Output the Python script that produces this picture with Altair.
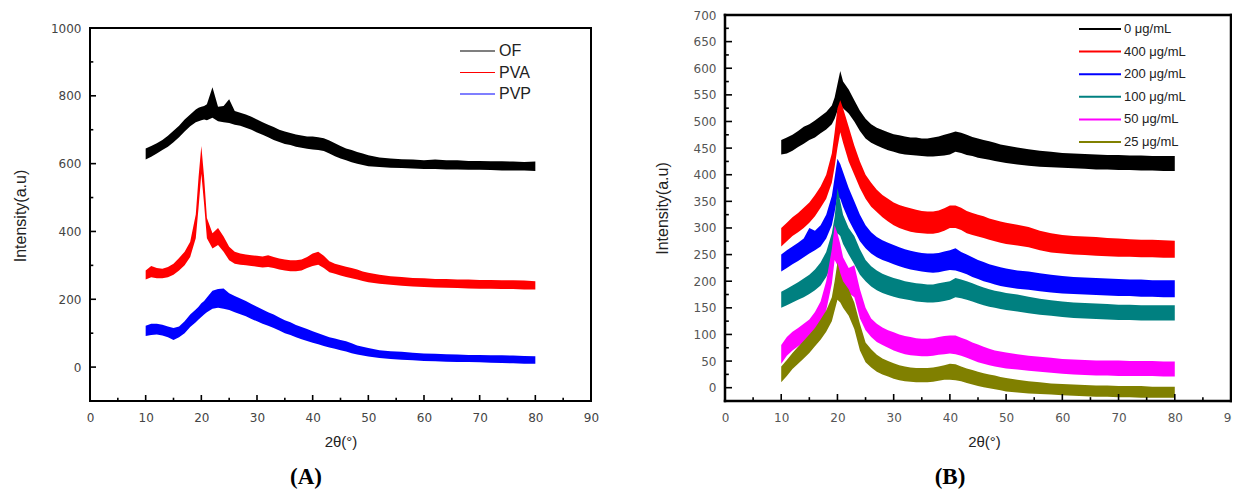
import altair as alt
import pandas as pd

# ---------------- data ----------------
two_theta = [10, 11, 12, 13, 14, 15, 16, 17, 18, 19,
             19.5, 20, 20.5,
             21, 22, 23, 24, 25, 26, 27, 28, 29, 30,
             31, 32, 33, 34, 35, 36, 37, 38, 39, 40,
             41, 42, 43, 44, 45, 46, 47, 48, 49, 50,
             52, 54, 56, 58, 60, 62, 64, 66, 68, 70, 72, 74, 76, 78, 80]

# Panel A: lower / upper envelope of each noisy trace
a_names = ["OF", "PVA", "PVP"]
a_colors = ["#000000", "#ff0000", "#0000ff"]

of_lo = [612, 620, 630, 640, 650, 663, 678, 695, 710, 722,
         725, 728, 730,
         728, 735, 725, 722, 720, 715, 712, 706, 700, 692,
         685, 678, 670, 664, 658, 655, 650, 647, 644, 642,
         640, 637, 630, 622, 615, 610, 604, 600, 596, 592,
         590, 588, 587, 586, 584, 584, 583, 583, 582, 582, 581, 580, 580, 580, 578]
of_hi = [645, 652, 660, 670, 682, 697, 712, 730, 745, 760,
         765, 768, 770,
         775, 825, 768, 770, 790, 755, 750, 745, 738, 730,
         722, 715, 708, 700, 695, 690, 686, 683, 680, 680,
         678, 675, 668, 660, 652, 645, 640, 634, 630, 625,
         618, 615, 613, 612, 610, 612, 610, 610, 608, 608, 607, 607, 606, 605, 606]

pva_lo = [258, 265, 262, 262, 265, 272, 285, 300, 325, 380,
          470, 570, 480,
          380, 350, 360, 340, 315, 305, 302, 300, 298, 296,
          294, 295, 292, 288, 285, 283, 283, 285, 292, 298,
          302, 292, 280, 275, 270, 266, 262, 258, 254, 250,
          246, 243, 240, 238, 236, 235, 234, 233, 232, 231, 231, 230, 230, 229, 229]
pva_hi = [285, 298, 292, 290, 295, 305, 322, 340, 370, 450,
          560, 652, 560,
          440, 395, 410, 385, 355, 340, 335, 332, 330, 328,
          326, 330, 325, 320, 317, 315, 315, 317, 325, 335,
          340, 328, 312, 305, 300, 296, 292, 288, 282, 278,
          272, 268, 266, 263, 262, 260, 260, 258, 258, 257, 257, 256, 256, 255, 253]

pvp_lo = [92, 95, 96, 93, 88, 80, 88, 100, 118, 132,
          140, 148, 155,
          162, 172, 175, 172, 168, 162, 156, 150, 142, 135,
          128, 122, 115, 108, 100, 95, 88, 82, 77, 72,
          67, 62, 58, 54, 50, 46, 41, 37, 34, 31,
          27, 24, 22, 20, 18, 17, 16, 15, 15, 14, 13, 12, 11, 10, 10]
pvp_hi = [122, 128, 128, 125, 120, 115, 120, 135, 155, 170,
          178, 188, 195,
          205, 225, 230, 232, 218, 210, 202, 195, 186, 178,
          170, 162, 155, 146, 138, 132, 124, 118, 112, 106,
          100, 94, 88, 84, 80, 76, 70, 64, 60, 56,
          50, 47, 45, 42, 40, 39, 38, 37, 36, 36, 35, 35, 34, 33, 32]

# Panel B
b_names = ["0 μg/mL", "400 μg/mL", "200 μg/mL", "100 μg/mL", "50 μg/mL", "25 μg/mL"]
b_colors = ["#000000", "#ff0000", "#0000ff", "#008080", "#ff00ff", "#808000"]

c0_lo = [438, 440, 445, 452, 458, 465, 470, 478, 485, 495,
         505, 520, 530,
         525, 515, 500, 482, 468, 460, 455, 450, 446, 443,
         440, 438, 437, 436, 435, 434, 434, 435, 436, 438,
         443, 441, 437, 435, 432, 430, 428, 426, 424, 422,
         419, 417, 415, 414, 413, 412, 411, 410, 410, 409, 409, 408, 408, 407, 407]
c0_hi = [465, 470, 475, 482, 490, 495, 502, 510, 518, 530,
         545, 570, 595,
         575, 560, 540, 520, 505, 495, 488, 484, 480, 476,
         474, 472, 470, 470, 468, 468, 470, 472, 475, 478,
         481, 479, 475, 471, 468, 465, 463, 460, 457, 455,
         451, 448, 445, 443, 441, 440, 439, 438, 437, 437, 436, 436, 435, 435, 435]

c400_lo = [265, 275, 285, 292, 300, 310, 322, 338, 355, 385,
           415, 450, 480,
           460, 425, 400, 375, 355, 340, 330, 320, 312, 305,
           300, 296, 293, 291, 290, 289, 289, 291, 295, 300,
           300, 296, 290, 287, 284, 281, 278, 275, 272, 270,
           267, 264, 258, 254, 252, 250, 249, 248, 247, 246, 246, 245, 245, 244, 244]
c400_hi = [300, 310, 320, 328, 338, 348, 362, 378, 400, 440,
           480, 525, 540,
           525, 490, 455, 425, 400, 385, 372, 362, 355, 348,
           343, 340, 337, 334, 332, 331, 331, 333, 337, 342,
           342, 338, 332, 328, 325, 322, 318, 315, 312, 310,
           306, 302, 295, 290, 287, 285, 284, 283, 281, 280, 279, 278, 278, 277, 276]

c200_lo = [218, 225, 232, 238, 245, 252, 258, 265, 280, 305,
           330, 360, 355,
           340, 315, 295, 275, 262, 252, 245, 240, 236, 232,
           228, 225, 222, 220, 218, 217, 216, 217, 219, 221,
           220, 217, 213, 208, 204, 200, 197, 194, 191, 189,
           186, 184, 181, 179, 177, 176, 175, 174, 173, 172, 172, 171, 171, 170, 170]
c200_hi = [250, 258, 265, 272, 280, 300, 295, 305, 325, 360,
           395, 430, 420,
           405, 375, 350, 325, 305, 292, 283, 277, 272, 268,
           264, 260, 257, 255, 253, 252, 252, 253, 256, 258,
           262, 255, 250, 245, 240, 236, 232, 229, 226, 224,
           220, 218, 215, 212, 210, 208, 207, 206, 205, 204, 203, 203, 202, 202, 202]

c100_lo = [150, 155, 160, 165, 170, 176, 183, 192, 208, 230,
           255, 290, 285,
           270, 250, 232, 212, 200, 190, 183, 178, 174, 171,
           168, 166, 164, 162, 161, 160, 160, 161, 163, 165,
           170, 168, 165, 162, 158, 155, 152, 150, 148, 146,
           143, 140, 137, 135, 133, 131, 130, 129, 128, 127, 127, 126, 126, 126, 126]
c100_hi = [180, 186, 192, 198, 205, 212, 222, 235, 255, 290,
           320, 375, 350,
           325, 300, 285, 260, 240, 228, 220, 214, 210, 206,
           203, 200, 198, 196, 195, 194, 194, 196, 198, 200,
           206, 203, 200, 196, 192, 188, 185, 182, 180, 178,
           175, 171, 167, 164, 162, 160, 159, 158, 157, 156, 156, 155, 155, 155, 155]

c50_lo = [45, 60, 70, 78, 85, 92, 102, 118, 145, 195,
          240, 230, 210,
          195, 178, 170, 130, 108, 95, 86, 80, 75, 70,
          66, 63, 61, 60, 59, 59, 60, 62, 63, 64,
          63, 60, 56, 52, 48, 45, 42, 40, 38, 36,
          34, 32, 30, 28, 26, 25, 24, 23, 23, 22, 22, 22, 22, 21, 21]
c50_hi = [80, 95, 105, 112, 120, 128, 142, 162, 200, 260,
          305, 290, 270,
          245, 225, 230, 185, 150, 130, 120, 113, 108, 104,
          100, 97, 95, 93, 92, 92, 93, 95, 97, 98,
          98, 94, 90, 85, 81, 77, 73, 70, 68, 66,
          63, 60, 58, 56, 54, 53, 52, 51, 51, 51, 50, 50, 50, 49, 49]

c25_lo = [10, 22, 35, 45, 55, 65, 78, 90, 105, 125,
          145, 165, 160,
          150, 135, 110, 70, 48, 38, 30, 25, 21, 17,
          14, 12, 11, 10, 10, 10, 11, 13, 15, 15,
          14, 12, 9, 6, 3, 1, -1, -3, -5, -7,
          -9, -11, -12, -13, -14, -15, -16, -17, -17, -18, -18, -19, -19, -19, -19]
c25_hi = [40, 52, 65, 77, 88, 100, 112, 128, 145, 170,
          200, 235, 215,
          200, 185, 160, 120, 85, 72, 62, 55, 50, 46,
          42, 40, 38, 37, 37, 37, 38, 40, 42, 45,
          44, 40, 36, 33, 30, 27, 25, 23, 20, 18,
          15, 12, 10, 8, 7, 6, 5, 4, 4, 3, 3, 3, 2, 2, 2]

# tick values
x_major = [0, 10, 20, 30, 40, 50, 60, 70, 80, 90]
x_minor = [5, 15, 25, 35, 45, 55, 65, 75, 85]
a_y_major = [0, 200, 400, 600, 800, 1000]
a_y_minor = [-100, 100, 300, 500, 700, 900]
b_y_major = [0, 50, 100, 150, 200, 250, 300, 350, 400, 450, 500, 550, 600, 650, 700]
b_y_minor = [25, 75, 125, 175, 225, 275, 325, 375, 425, 475, 525, 575, 625, 675]

a_series = [(of_lo, of_hi), (pva_lo, pva_hi), (pvp_lo, pvp_hi)]
b_series = [(c0_lo, c0_hi), (c400_lo, c400_hi), (c200_lo, c200_hi),
            (c100_lo, c100_hi), (c50_lo, c50_hi), (c25_lo, c25_hi)]

LABEL_FONT = "DejaVu Sans"
TITLE_FONT = "Liberation Sans"


def panel(series, names, colors, ydom, ymaj, ymin, W, H, frame_top, tick_len,
          leg, tag, tag_pos, title_pad_y, title_y, title_x, label_color, frame_w):
    xs = alt.Scale(domain=[0, 90], nice=False, zero=False)
    ys = alt.Scale(domain=ydom, nice=False, zero=False)
    xax = alt.Axis(values=x_major, title="2θ(°)", format="d", labelFont=LABEL_FONT,
                   labelFontSize=12, labelColor=label_color, labelPadding=11,
                   labelFlush=False, titleFont=TITLE_FONT, titleFontSize=15,
                   titleFontWeight="normal", titleColor="#222", titlePadding=11,
                   titleX=title_x)
    yax = alt.Axis(values=ymaj, title="Intensity(a.u)", format="d", labelFont=LABEL_FONT,
                   labelFontSize=12, labelColor=label_color, labelPadding=9,
                   titleFont=TITLE_FONT, titleFontSize=16, titleFontWeight="normal",
                   titleColor="#222", titlePadding=title_pad_y, titleY=title_y)
    layers = []
    for (lo, hi), c in zip(series, colors):
        df = pd.DataFrame({"x": two_theta, "lo": lo, "hi": hi})
        layers.append(alt.Chart(df).mark_area(color=c, opacity=1).encode(
            x=alt.X("x:Q", scale=xs, axis=xax),
            y=alt.Y("lo:Q", scale=ys, axis=yax),
            y2="hi:Q"))
    # inward ticks
    for vals, ln in ((x_major, tick_len), (x_minor, tick_len * 0.55)):
        layers.append(alt.Chart(pd.DataFrame({"t": vals})).mark_rule(
            color="black", strokeWidth=1.6).encode(
            x=alt.X("t:Q", scale=xs, axis=xax),
            y=alt.value(H), y2=alt.value(H - ln)))
    for vals, ln in ((ymaj, tick_len), (ymin, tick_len * 0.55)):
        layers.append(alt.Chart(pd.DataFrame({"t": vals})).mark_rule(
            color="black", strokeWidth=1.6).encode(
            y=alt.Y("t:Q", scale=ys, axis=yax),
            x=alt.value(0), x2=alt.value(ln)))
    # frame
    one = pd.DataFrame({"n": [0]})
    for (x1, x2, y1, y2) in ((0, W, frame_top, frame_top), (0, W, H, H),
                             (0, 0, frame_top, H), (W, W, frame_top, H)):
        layers.append(alt.Chart(one).mark_rule(
            color="black", strokeWidth=frame_w, strokeCap="square").encode(
            x=alt.value(x1), x2=alt.value(x2), y=alt.value(y1), y2=alt.value(y2)))
    # legend
    lx0, lx1, tx, ly0, dy, fs, sw = leg
    for i, (n, c) in enumerate(zip(names, colors)):
        ldf = pd.DataFrame({"n": [n]})
        yy = ly0 + i * dy
        layers.append(alt.Chart(ldf).mark_rule(color=c, strokeWidth=sw).encode(
            x=alt.value(lx0), x2=alt.value(lx1), y=alt.value(yy)))
        layers.append(alt.Chart(ldf).mark_text(
            align="left", baseline="middle", font=TITLE_FONT, fontSize=fs,
            color="#222").encode(text="n:N", x=alt.value(tx), y=alt.value(yy)))
    # panel tag
    layers.append(alt.Chart(pd.DataFrame({"n": [tag]})).mark_text(
        align="center", baseline="middle", font="Liberation Serif", fontSize=23,
        fontWeight="bold", color="black").encode(
        text="n:N", x=alt.value(tag_pos[0]), y=alt.value(tag_pos[1])))
    return alt.layer(*layers).properties(width=W, height=H)


# panel A: the drawn frame starts 13 px below the top of the (taller) view
A_H = 386
A_TOP = 13
a_top_val = 1000 + A_TOP * 1100 / 373
pA = panel(a_series, a_names, a_colors, [-100, a_top_val], a_y_major, a_y_minor,
           501, A_H, A_TOP, 6, (370, 405, 409, 23 + A_TOP, 21.5, 16, 1.2), "(A)",
           (216, 462), 22, A_TOP + 373 / 2 + 1, 250.5, "#444", 2)
pB = panel(b_series, b_names, b_colors, [-25, 700], b_y_major, b_y_minor,
           506, 386, 0, 7, (354, 396, 399, 14, 22.6, 13, 2), "(B)", (225, 462), 23,
           386 / 2, 259, "#555", 2.5)

chart = alt.hconcat(pA, pB, spacing=55).configure(
    padding={"left": 4, "top": 1, "right": -7, "bottom": 0}
).configure_view(strokeWidth=0).configure_axis(
    grid=False, domain=False, ticks=False)

chart.save("out.html", embed_options={"renderer": "svg", "actions": False})
